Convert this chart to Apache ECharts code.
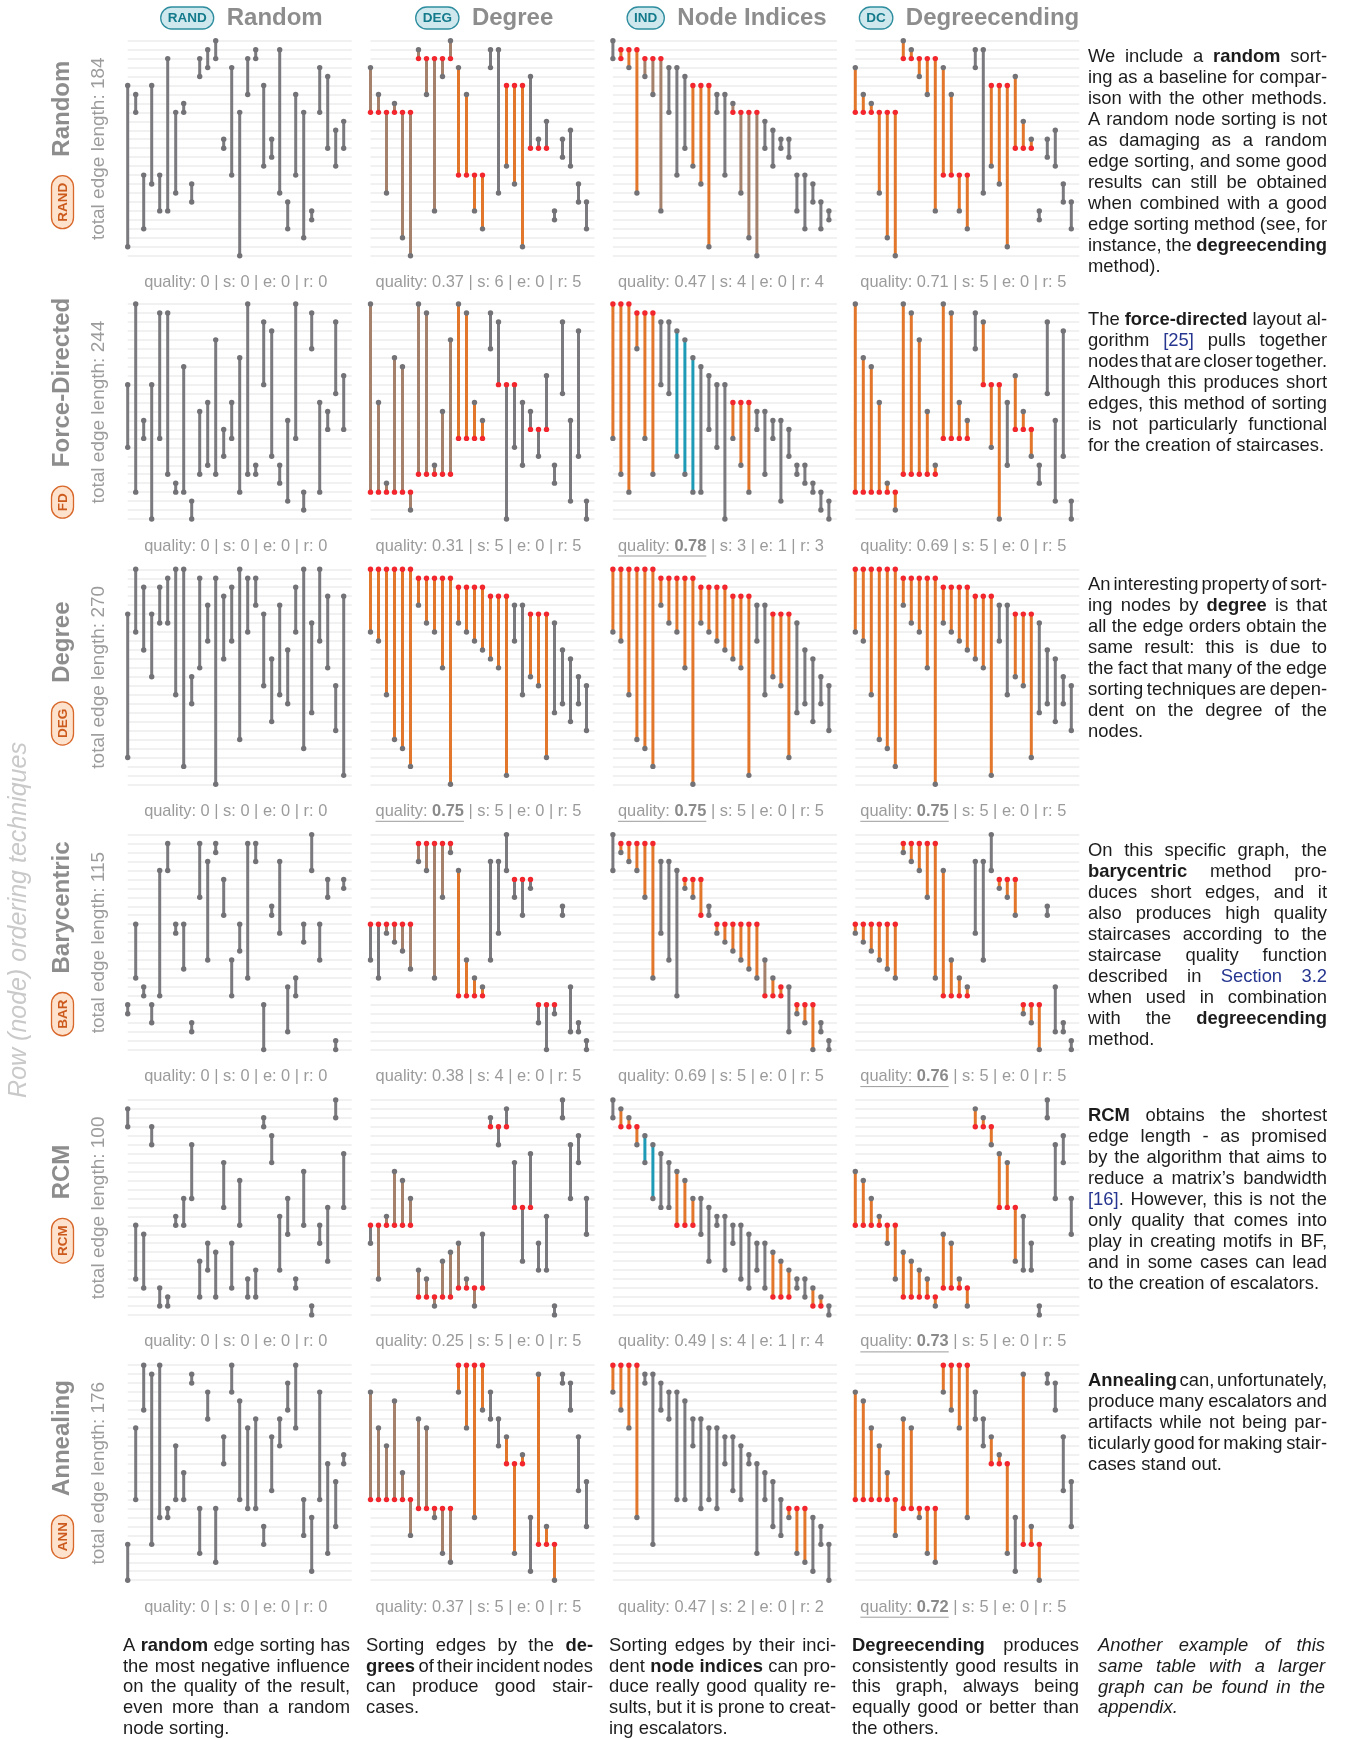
<!DOCTYPE html>
<html><head><meta charset="utf-8">
<script src="https://cdn.jsdelivr.net/npm/echarts@6/dist/echarts.min.js"></script>
<style>html,body{margin:0;padding:0;background:#fff;}#c{width:1345px;height:1739px;}</style>
</head><body><div id="c"></div>
<script>
// ---------------- DATA ----------------
const colNames = ['Random', 'Degree', 'Node Indices', 'Degreecending'];
const colBadges = ['RAND', 'DEG', 'IND', 'DC'];
const rowNames = ['Random', 'Force-Directed', 'Degree', 'Barycentric', 'RCM', 'Annealing'];
const rowBadges = ['RAND', 'FD', 'DEG', 'BAR', 'RCM', 'ANN'];
const rowLengths = [184, 244, 270, 115, 100, 176];
// quality labels: [quality, s, e, r]
const qualities = [
  [['0', 0, 0, 0], ['0.37', 6, 0, 5], ['0.47', 4, 0, 4], ['0.71', 5, 0, 5]],
  [['0', 0, 0, 0], ['0.31', 5, 0, 5], ['0.78', 3, 1, 3], ['0.69', 5, 0, 5]],
  [['0', 0, 0, 0], ['0.75', 5, 0, 5], ['0.75', 5, 0, 5], ['0.75', 5, 0, 5]],
  [['0', 0, 0, 0], ['0.38', 4, 0, 5], ['0.69', 5, 0, 5], ['0.76', 5, 0, 5]],
  [['0', 0, 0, 0], ['0.25', 5, 0, 5], ['0.49', 4, 1, 4], ['0.73', 5, 0, 5]],
  [['0', 0, 0, 0], ['0.37', 5, 0, 5], ['0.47', 2, 0, 2], ['0.72', 5, 0, 5]]
];
const bestQuality = [[], [2], [1, 2, 3], [3], [3], [3]];

// edges: [top node row, bottom node row, kind(0 plain,1 stair,2 stair-brown,3 escalator), red ends(1 top,2 bottom,3 both)]
const RAND_R = [[5,23],[6,8],[15,21],[5,16],[15,19],[2,19],[8,17],[7,8],[16,18],[2,4],[1,3],[0,2],[11,12],[3,15],[8,24],[2,6],[1,2],[5,14],[11,13],[1,17],[18,21],[6,15],[8,22],[19,20],[3,8],[4,12],[10,14],[9,12]];
const RAND_DEG = [[3,8,2,2],[6,8,2,2],[8,17,2,1],[7,8,2,2],[8,22,2,1],[8,24,2,1],[1,2,2,2],[2,6,2,1],[2,19,2,1],[2,4,2,1],[0,2,2,2],[3,15,1,2],[6,15,1,2],[15,19,1,1],[15,21,1,1],[1,3,0,0],[1,17,0,0],[5,14,1,1],[5,16,1,1],[5,23,1,1],[4,12,0,2],[11,12,0,2],[9,12,0,2],[19,20,0,0],[11,13,0,0],[10,14,0,0],[16,18,0,0],[18,21,0,0]];
const RAND_IND = [[0,2,0,0],[1,2,1,3],[1,3,1,1],[1,17,1,1],[2,4,2,1],[2,6,2,1],[2,19,2,1],[3,8,0,0],[3,15,0,0],[4,12,0,0],[5,14,1,1],[5,16,1,1],[5,23,1,1],[6,8,0,0],[6,15,0,0],[7,8,2,2],[8,17,2,1],[8,22,2,1],[8,24,2,1],[9,12,0,0],[10,14,0,0],[11,12,0,0],[11,13,0,0],[15,19,0,0],[15,21,0,0],[16,18,0,0],[18,21,0,0],[19,20,0,0]];
const RAND_DC = [[3,8,1,2],[6,8,1,2],[7,8,1,2],[8,17,1,1],[8,22,1,1],[8,24,1,1],[0,2,1,2],[1,2,1,2],[2,4,1,1],[2,6,1,1],[2,19,1,1],[3,15,1,2],[6,15,1,2],[15,19,1,1],[15,21,1,1],[1,3,0,0],[1,17,0,0],[5,14,1,1],[5,16,1,1],[5,23,1,1],[4,12,1,2],[9,12,1,2],[11,12,1,2],[19,20,0,0],[11,13,0,0],[10,14,0,0],[16,18,0,0],[18,21,0,0]];

const FD_R = [[9,16],[0,21],[13,15],[9,24],[1,15],[1,19],[20,21],[7,21],[22,24],[12,19],[11,18],[4,19],[14,17],[11,15],[6,21],[0,19],[18,19],[2,9],[3,17],[18,20],[13,22],[0,15],[21,23],[1,5],[11,21],[12,14],[2,10],[8,14]];
const FD_DEG = [[0,21,2,2],[11,21,2,2],[20,21,2,2],[6,21,2,2],[7,21,2,2],[21,23,2,1],[0,19,2,2],[1,19,2,2],[18,19,2,2],[12,19,2,2],[4,19,2,2],[0,15,1,2],[1,15,1,2],[11,15,1,2],[13,15,1,2],[1,5,0,0],[2,9,0,2],[9,24,0,1],[9,16,0,1],[11,18,0,0],[12,14,0,2],[14,17,0,1],[8,14,0,2],[18,20,0,0],[2,10,0,0],[13,22,0,0],[3,17,0,0],[22,24,0,0]];
const FD_IND = [[0,15,1,1],[0,19,1,1],[0,21,1,1],[1,5,1,1],[1,15,1,1],[1,19,1,1],[2,9,0,0],[2,10,0,0],[3,17,3,0],[4,19,3,0],[6,21,3,0],[7,21,0,0],[8,14,0,0],[9,16,0,0],[9,24,0,0],[11,15,1,1],[11,18,1,1],[11,21,1,1],[12,14,0,0],[12,19,0,0],[13,15,0,0],[13,22,0,0],[14,17,0,0],[18,19,0,0],[18,20,0,0],[20,21,0,0],[21,23,0,0],[22,24,0,0]];
const FD_DC = [[0,21,1,2],[6,21,1,2],[7,21,1,2],[11,21,1,2],[20,21,1,2],[21,23,1,1],[0,19,1,2],[1,19,1,2],[4,19,1,2],[12,19,1,2],[18,19,1,2],[0,15,1,2],[1,15,1,2],[11,15,1,2],[13,15,1,2],[1,5,0,0],[2,9,1,2],[9,16,1,1],[9,24,1,1],[11,18,0,0],[8,14,1,2],[12,14,1,2],[14,17,1,1],[18,20,0,0],[2,10,0,0],[13,22,0,0],[3,17,0,0],[22,24,0,0]];

const DEG_R = [[5,21],[0,7],[2,9],[5,12],[2,6],[1,6],[0,14],[0,22],[12,15],[1,11],[4,8],[1,24],[3,10],[2,8],[0,19],[1,7],[1,4],[5,13],[10,17],[4,14],[9,15],[2,7],[0,20],[6,16],[0,8],[3,11],[13,18],[3,23]];
const DEG_DEG = [[0,7,1,1],[0,8,1,1],[0,14,1,1],[0,19,1,1],[0,20,1,1],[0,22,1,1],[1,4,1,1],[1,6,1,1],[1,7,1,1],[1,11,1,1],[1,24,1,1],[2,6,1,1],[2,7,1,1],[2,8,1,1],[2,9,1,1],[3,10,1,1],[3,11,1,1],[3,23,1,1],[4,8,0,0],[4,14,0,0],[5,12,1,1],[5,13,1,1],[5,21,1,1],[6,16,0,0],[9,15,0,0],[10,17,0,0],[12,15,0,0],[13,18,0,0]];
const DEG_IND = DEG_DEG;
const DEG_DC = DEG_DEG;

const BAR_R = [[19,20],[10,16],[17,18],[19,21],[4,18],[1,4],[10,11],[10,15],[21,22],[1,7],[3,14],[1,2],[5,9],[14,18],[10,13],[1,16],[1,3],[19,24],[8,9],[3,11],[17,22],[16,18],[10,12],[0,4],[10,14],[5,7],[23,24],[5,6]];
const BAR_DEG = [[10,14,0,1],[10,16,0,1],[10,11,2,1],[10,12,2,1],[10,13,2,1],[10,15,2,1],[1,3,2,1],[1,4,2,1],[1,16,2,1],[1,7,2,1],[1,2,2,1],[4,18,1,2],[14,18,1,2],[16,18,1,2],[17,18,1,2],[3,14,0,0],[3,11,0,0],[0,4,0,0],[5,7,0,1],[5,9,0,1],[5,6,0,1],[19,21,0,1],[19,24,0,1],[19,20,0,1],[8,9,0,0],[17,22,0,0],[21,22,0,0],[23,24,0,0]];
const BAR_IND = [[0,4,0,0],[1,2,1,1],[1,3,1,1],[1,4,1,1],[1,7,1,1],[1,16,1,1],[3,11,0,0],[3,14,0,0],[4,18,0,0],[5,6,1,1],[5,7,1,1],[5,9,1,3],[8,9,0,0],[10,11,1,1],[10,12,1,1],[10,13,1,1],[10,14,1,1],[10,15,1,1],[10,16,1,1],[14,18,2,2],[16,18,1,2],[17,18,1,3],[17,22,0,0],[19,20,1,1],[19,21,1,1],[19,24,1,1],[21,22,0,0],[23,24,0,0]];
const BAR_DC = [[10,11,1,1],[10,12,1,1],[10,13,1,1],[10,14,1,1],[10,15,1,1],[10,16,1,1],[1,2,1,1],[1,3,1,1],[1,4,1,1],[1,7,1,1],[1,16,1,1],[4,18,1,2],[14,18,1,2],[16,18,1,2],[17,18,1,2],[3,11,0,0],[3,14,0,0],[0,4,0,0],[5,6,1,1],[5,7,1,1],[5,9,1,1],[19,20,1,1],[19,21,1,1],[19,24,1,1],[8,9,0,0],[17,22,0,0],[21,22,0,0],[23,24,0,0]];

const RCM_R = [[1,3],[14,20],[15,21],[3,5],[21,23],[22,23],[13,14],[11,14],[5,11],[18,22],[16,19],[17,22],[7,12],[16,21],[9,14],[20,22],[19,22],[2,3],[4,7],[13,19],[11,15],[20,21],[8,14],[23,24],[14,16],[12,18],[0,2],[6,12]];
const RCM_DEG = [[14,16,0,1],[14,20,2,1],[13,14,2,2],[8,14,2,2],[9,14,2,2],[11,14,2,2],[19,22,2,2],[20,22,2,2],[22,23,2,1],[18,22,2,2],[17,22,2,2],[16,21,2,2],[20,21,2,2],[21,23,2,1],[15,21,0,2],[2,3,0,2],[3,5,0,1],[1,3,0,2],[7,12,0,2],[12,18,0,1],[6,12,0,2],[16,19,0,0],[13,19,0,0],[23,24,0,0],[0,2,0,0],[5,11,0,0],[4,7,0,0],[11,15,0,0]];
const RCM_IND = [[0,2,0,0],[1,3,1,2],[2,3,1,2],[3,5,1,1],[4,7,3,0],[5,11,3,0],[6,12,0,0],[7,12,0,0],[8,14,1,2],[9,14,1,2],[11,14,1,2],[11,15,0,0],[12,18,0,0],[13,14,0,0],[13,19,0,0],[14,16,0,0],[14,20,0,0],[15,21,0,0],[16,19,0,0],[16,21,0,0],[17,22,1,2],[18,22,1,2],[19,22,1,2],[20,21,0,0],[20,22,0,0],[21,23,1,2],[22,23,1,2],[23,24,0,0]];
const RCM_DC = [[8,14,1,2],[9,14,1,2],[11,14,1,2],[13,14,1,2],[14,16,1,1],[14,20,1,1],[17,22,1,2],[18,22,1,2],[19,22,1,2],[20,22,1,2],[22,23,1,1],[15,21,1,2],[16,21,1,2],[20,21,1,2],[21,23,1,1],[1,3,1,2],[2,3,1,2],[3,5,1,1],[6,12,1,2],[7,12,1,2],[12,18,1,1],[13,19,0,0],[16,19,0,0],[23,24,0,0],[0,2,0,0],[5,11,0,0],[4,7,0,0],[11,15,0,0]];

const ANN_R = [[20,24],[7,15],[0,5],[1,20],[0,17],[16,17],[9,15],[12,15],[1,2],[16,21],[3,6],[16,22],[8,11],[0,3],[4,15],[7,16],[6,16],[18,20],[8,14],[6,9],[2,5],[0,7],[15,19],[17,23],[3,15],[11,21],[13,18],[10,11]];
const ANN_DEG = [[3,15,2,2],[7,15,2,2],[9,15,2,2],[4,15,2,2],[12,15,2,2],[15,19,2,1],[6,16,2,2],[7,16,2,2],[16,17,2,1],[16,21,2,1],[16,22,2,1],[0,3,1,1],[0,7,1,1],[0,17,1,1],[0,5,1,1],[3,6,0,0],[6,9,0,0],[8,11,1,2],[11,21,1,1],[10,11,1,2],[17,23,0,0],[1,20,1,2],[18,20,1,2],[20,24,1,1],[1,2,0,0],[2,5,0,0],[8,14,0,0],[13,18,0,0]];
const ANN_IND = [[0,3,1,1],[0,5,1,1],[0,7,1,1],[0,17,1,1],[1,2,0,0],[1,20,0,0],[2,5,0,0],[3,6,0,0],[3,15,0,0],[4,15,0,0],[6,9,0,0],[6,16,0,0],[7,15,0,0],[7,16,0,0],[8,11,0,0],[8,14,0,0],[9,15,0,0],[10,11,0,0],[11,21,0,0],[12,15,0,0],[13,18,0,0],[15,19,0,0],[16,17,1,1],[16,21,1,1],[16,22,1,1],[17,23,0,0],[18,20,0,0],[20,24,0,0]];
const ANN_DC = [[3,15,1,2],[4,15,1,2],[7,15,1,2],[9,15,1,2],[12,15,1,2],[15,19,1,1],[6,16,1,2],[7,16,1,2],[16,17,1,1],[16,21,1,1],[16,22,1,1],[0,3,1,1],[0,5,1,1],[0,7,1,1],[0,17,1,1],[3,6,0,0],[6,9,0,0],[8,11,1,2],[10,11,1,2],[11,21,1,1],[17,23,0,0],[1,20,1,2],[18,20,1,2],[20,24,1,1],[1,2,0,0],[2,5,0,0],[8,14,0,0],[13,18,0,0]];

const panels = [
  [RAND_R, RAND_DEG, RAND_IND, RAND_DC],
  [FD_R, FD_DEG, FD_IND, FD_DC],
  [DEG_R, DEG_DEG, DEG_IND, DEG_DC],
  [BAR_R, BAR_DEG, BAR_IND, BAR_DC],
  [RCM_R, RCM_DEG, RCM_IND, RCM_DC],
  [ANN_R, ANN_DEG, ANN_IND, ANN_DC]
];

const sideTexts = [
  ['We include a **random** sort-', 'ing as a baseline for compar-', 'ison with the other methods.', 'A random node sorting is not', 'as damaging as a random', 'edge sorting, and some good', 'results can still be obtained', 'when combined with a good', 'edge sorting method (see, for', 'instance, the **degreecending**', 'method).'],
  ['The **force-directed** layout al-', 'gorithm {[25]} pulls together', 'nodes that are closer together.', 'Although this produces short', 'edges, this method of sorting', 'is not particularly functional', 'for the creation of staircases.'],
  ['An interesting property of sort-', 'ing nodes by **degree** is that', 'all the edge orders obtain the', 'same result: this is due to', 'the fact that many of the edge', 'sorting techniques are depen-', 'dent on the degree of the', 'nodes.'],
  ['On this specific graph, the', '**barycentric** method pro-', 'duces short edges, and it', 'also produces high quality', 'staircases according to the', 'staircase quality function', 'described in {Section 3.2}', 'when used in combination', 'with the **degreecending**', 'method.'],
  ['**RCM** obtains the shortest', 'edge length - as promised', 'by the algorithm that aims to', 'reduce a matrix\u2019s bandwidth', '{[16]}. However, this is not the', 'only quality that comes into', 'play in creating motifs in BF,', 'and in some cases can lead', 'to the creation of escalators.'],
  ['**Annealing** can, unfortunately,', 'produce many escalators and', 'artifacts while not being par-', 'ticularly good for making stair-', 'cases stand out.']
];
const bottomTexts = [
  ['A **random** edge sorting has', 'the most negative influence', 'on the quality of the result,', 'even more than a random', 'node sorting.'],
  ['Sorting edges by the **de-**', '**grees** of their incident nodes', 'can produce good stair-', 'cases.'],
  ['Sorting edges by their inci-', 'dent **node indices** can pro-', 'duce really good quality re-', 'sults, but it is prone to creat-', 'ing escalators.'],
  ['**Degreecending** produces', 'consistently good results in', 'this graph, always being', 'equally good or better than', 'the others.'],
  ['Another example of this', 'same table with a larger', 'graph can be found in the', 'appendix.']
];
const sideTitle = 'Row (node) ordering techniques';

// ---------------- LAYOUT / STYLE ----------------
const FONT = '"Liberation Sans", Arial, Helvetica, sans-serif';
const COL_X = [127.7, 370.5, 612.9, 855.3];
const ROW_Y = [40.7, 304, 569.3, 834.6, 1099.9, 1365.2];
const PW = 224, PH = 215;
const KIND_COLOR = ['#7b7b7f', '#e2772c', '#a5806b', '#1d9bb6'];
const DOT = '#737377', RED = '#f2262c';

const mctx = document.createElement('canvas').getContext('2d');
function tw(s, font) { mctx.font = font; return mctx.measureText(s).width; }

const chart = echarts.init(document.getElementById('c'), null, { width: 1345, height: 1739 });
const grids = [], xAxes = [], yAxes = [], series = [], G = [];

function renderEdge(params, api) {
  const x = api.value(0), a = api.value(1), b = api.value(2), k = api.value(3), r = api.value(4);
  const p1 = api.coord([x, a]), p2 = api.coord([x, b]);
  return {
    type: 'group', children: [
      { type: 'line', shape: { x1: p1[0], y1: p1[1], x2: p2[0], y2: p2[1] }, style: { stroke: KIND_COLOR[k], lineWidth: 3 } },
      { type: 'circle', shape: { cx: p1[0], cy: p1[1], r: 2.7 }, style: { fill: (r & 1) ? RED : DOT } },
      { type: 'circle', shape: { cx: p2[0], cy: p2[1], r: 2.7 }, style: { fill: (r & 2) ? RED : DOT } }
    ]
  };
}

panels.forEach((row, ri) => row.forEach((edges, ci) => {
  const k = grids.length;
  grids.push({ left: COL_X[ci], top: ROW_Y[ri], width: PW, height: PH });
  xAxes.push({ gridIndex: k, type: 'value', min: 0, max: 28, show: false });
  yAxes.push({ gridIndex: k, type: 'value', min: 0, max: 24, interval: 1, inverse: true,
    axisLine: { show: false }, axisTick: { show: false }, axisLabel: { show: false },
    splitLine: { show: true, lineStyle: { color: '#ececec', width: 1.6 } } });
  series.push({ type: 'custom', xAxisIndex: k, yAxisIndex: k, silent: true, clip: false,
    renderItem: renderEdge, encode: { x: 0, y: [1, 2] },
    data: edges.map((e, i) => [i, e[0], e[1], e[2] || 0, e[3] || 0]) });
}));

// column headers
colNames.forEach((name, ci) => {
  const bf = 'bold 13.5px ' + FONT, tf = 'bold 24px ' + FONT;
  const bw = tw(colBadges[ci], bf) + 14, nw = tw(name, tf);
  const total = bw + 13 + nw;
  const x0 = COL_X[ci] + 114 - total / 2;
  G.push({ type: 'rect', shape: { x: x0, y: 7, width: bw, height: 22, r: 11 }, style: { fill: '#cfe8ee', stroke: '#2d8d9e', lineWidth: 1.3 } });
  G.push({ type: 'text', x: x0 + bw / 2, y: 18.5, style: { text: colBadges[ci], font: bf, fill: '#137a8b', textAlign: 'center', textVerticalAlign: 'middle' } });
  G.push({ type: 'text', x: x0 + bw + 13, y: 18, style: { text: name, font: tf, fill: '#8d8d8d', textAlign: 'left', textVerticalAlign: 'middle' } });
});

// row labels
rowNames.forEach((name, ri) => {
  const bf = 'bold 13.5px ' + FONT, tf = 'bold 24px ' + FONT;
  const bw = tw(rowBadges[ri], bf) + 14, nw = tw(name, tf);
  const total = bw + 19 + nw;
  G.push({ type: 'group', x: 62.5, y: ROW_Y[ri] + 104, rotation: Math.PI / 2, children: [
    { type: 'rect', shape: { x: -total / 2, y: -11, width: bw, height: 22, r: 11 }, style: { fill: '#fde2cd', stroke: '#d8672a', lineWidth: 1.3 } },
    { type: 'text', x: -total / 2 + bw / 2, y: 0.5, style: { text: rowBadges[ri], font: bf, fill: '#cc5a1c', textAlign: 'center', textVerticalAlign: 'middle' } },
    { type: 'text', x: total / 2 - nw / 2, y: 0, style: { text: name, font: tf, fill: '#8d8d8d', textAlign: 'center', textVerticalAlign: 'middle' } }
  ] });
  G.push({ type: 'text', x: 99, y: ROW_Y[ri] + 108, rotation: Math.PI / 2, style: { text: 'total edge length: ' + rowLengths[ri], font: '19px ' + FONT, fill: '#9c9c9c', textAlign: 'center', textVerticalAlign: 'middle' } });
});

G.push({ type: 'text', x: 19, y: 920, rotation: Math.PI / 2, style: { text: sideTitle, font: 'italic 25px ' + FONT, fill: '#c9c9c9', textAlign: 'center', textVerticalAlign: 'middle' } });

// quality labels
qualities.forEach((row, ri) => row.forEach((q, ci) => {
  const rf = '16.4px ' + FONT, bfq = 'bold 16.4px ' + FONT;
  const best = bestQuality[ri].indexOf(ci) >= 0;
  const p1 = 'quality: ', p2 = q[0], p3 = ' | s: ' + q[1] + ' | e: ' + q[2] + ' | r: ' + q[3];
  const w1 = tw(p1, rf), w2 = tw(p2, best ? bfq : rf), w3 = tw(p3, rf);
  const x0 = COL_X[ci] + 108 - (w1 + w2 + w3) / 2, y = ROW_Y[ri] + 242;
  G.push({ type: 'text', x: x0, y, style: { text: p1, font: rf, fill: '#9b9b9b', textVerticalAlign: 'middle' } });
  G.push({ type: 'text', x: x0 + w1, y, style: { text: p2, font: best ? bfq : rf, fill: best ? '#8a8a8a' : '#9b9b9b', textVerticalAlign: 'middle' } });
  G.push({ type: 'text', x: x0 + w1 + w2, y, style: { text: p3, font: rf, fill: '#9b9b9b', textVerticalAlign: 'middle' } });
  if (best) G.push({ type: 'line', shape: { x1: x0, y1: y + 10, x2: x0 + w1 + w2, y2: y + 10 }, style: { stroke: '#9b9b9b', lineWidth: 1 } });
}));

// justified paragraphs
function parseLine(line) {
  const words = []; let cur = null, bold = false, blue = false;
  line.split(/(\*\*|\{|\})/).forEach(p => {
    if (p === '**') { bold = !bold; return; }
    if (p === '{') { blue = true; return; }
    if (p === '}') { blue = false; return; }
    if (!p) return;
    p.split(' ').forEach((c, i) => {
      if (i > 0) cur = null;
      if (!c) return;
      if (!cur) { cur = []; words.push(cur); }
      cur.push({ t: c, bold, blue });
    });
  });
  return words;
}
function paragraph(x0, y0, width, lines, size, lh, italic) {
  const fontOf = run => (italic ? 'italic ' : '') + (run.bold ? 'bold ' : '') + size + 'px ' + FONT;
  lines.forEach((line, li) => {
    const words = parseLine(line);
    const ww = words.map(w => w.reduce((s, r) => s + tw(r.t, fontOf(r)), 0));
    const sum = ww.reduce((a, b) => a + b, 0);
    const sp = tw(' ', fontOf({}));
    const justify = li < lines.length - 1 && words.length > 1;
    const gap = justify ? (width - sum) / (words.length - 1) : sp;
    let x = x0; const y = y0 + li * lh;
    words.forEach((w, wi) => {
      let xr = x;
      w.forEach(r => {
        G.push({ type: 'text', x: xr, y, style: { text: r.t, font: fontOf(r), fill: r.blue ? '#26358f' : '#1c1c1c', textVerticalAlign: 'middle' } });
        xr += tw(r.t, fontOf(r));
      });
      x += ww[wi] + gap;
    });
  });
}
sideTexts.forEach((lines, ri) => paragraph(1088, ROW_Y[ri] + 16, 239, lines, 18.4, 21, false));
const BX = [123, 366, 609, 852, 1098];
bottomTexts.forEach((lines, i) => paragraph(BX[i], 1646, 227, lines, 18.4, 20.7, i === 4));

chart.setOption({
  animation: false,
  backgroundColor: '#ffffff',
  grid: grids, xAxis: xAxes, yAxis: yAxes, series,
  graphic: { elements: G }
});
</script>
</body></html>
